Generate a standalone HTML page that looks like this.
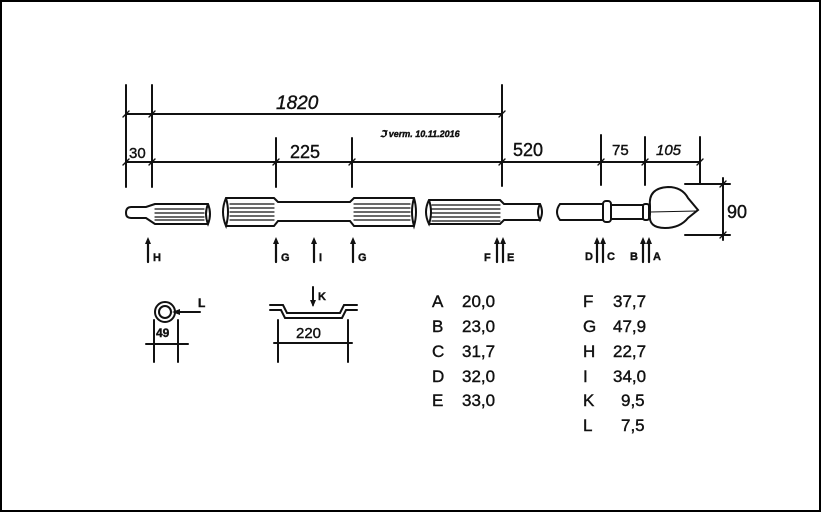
<!DOCTYPE html>
<html><head><meta charset="utf-8"><style>
html,body{margin:0;padding:0;background:#fff}
svg{display:block}
text{font-family:"Liberation Sans",sans-serif;fill:#111}
</style></head><body>
<svg width="821" height="512" viewBox="0 0 821 512" xmlns="http://www.w3.org/2000/svg">
<rect x="1" y="1" width="819" height="510" fill="#fff" stroke="#000" stroke-width="2"/>
<g stroke="#111" stroke-width="2" fill="none" stroke-linecap="round">
<line x1="126" y1="85" x2="126" y2="187"/>
<line x1="152" y1="85" x2="152" y2="187"/>
<line x1="502" y1="85" x2="502" y2="186"/>
<line x1="276" y1="138" x2="276" y2="187"/>
<line x1="352" y1="138" x2="352" y2="187"/>
<line x1="601" y1="135" x2="601" y2="185"/>
<line x1="645" y1="137" x2="645" y2="185"/>
<line x1="700" y1="137" x2="700" y2="184"/>
<line x1="126" y1="114" x2="502" y2="114"/>
<line x1="126" y1="162" x2="700" y2="162"/>
<g stroke-width="1.4">
<line x1="123" y1="117" x2="129" y2="111"/><line x1="149" y1="117" x2="155" y2="111"/><line x1="499" y1="117" x2="505" y2="111"/>
<line x1="123" y1="165" x2="129" y2="159"/><line x1="149" y1="165" x2="155" y2="159"/><line x1="273" y1="165" x2="279" y2="159"/><line x1="349" y1="165" x2="355" y2="159"/><line x1="499" y1="165" x2="505" y2="159"/><line x1="598" y1="165" x2="604" y2="159"/><line x1="642" y1="165" x2="648" y2="159"/><line x1="697" y1="165" x2="703" y2="159"/>
</g>
<path d="M155 204 L208 204 M155 224 L208 224 M155 204 L146 207 L131 207 Q126 207 126 213 Q126 218 131 218 L146 218 L155 224"/>
<path d="M208 204 Q204 214 208 224 Q212 214 208 204"/>
<g stroke-width="1.2"><line x1="155" y1="209" x2="204" y2="209"/><line x1="155" y1="213" x2="204" y2="213"/><line x1="155" y1="217" x2="204" y2="217"/><line x1="155" y1="220" x2="204" y2="220"/></g>
<path d="M226 198 L274 198 L278 202 L350 202 L354 198 L414 198 M226 226 L274 226 L278 221 L350 221 L354 226 L414 226"/>
<path d="M226 198 Q220 212 226 226 Q230 212 226 198 M414 198 Q410 212 414 226 Q418 212 414 198"/>
<g stroke-width="1.2"><line x1="230" y1="204" x2="274" y2="204"/><line x1="230" y1="208" x2="274" y2="208"/><line x1="230" y1="212" x2="274" y2="212"/><line x1="230" y1="216" x2="274" y2="216"/><line x1="230" y1="220" x2="274" y2="220"/>
<line x1="354" y1="204" x2="410" y2="204"/><line x1="354" y1="208" x2="410" y2="208"/><line x1="354" y1="212" x2="410" y2="212"/><line x1="354" y1="216" x2="410" y2="216"/><line x1="354" y1="220" x2="410" y2="220"/></g>
<path d="M429 200 L500 200 L504 204 L540 204 M429 224 L500 224 L504 220 L540 220"/>
<path d="M429 200 Q423 212 429 224 Q433 212 429 200 M540 204 Q536 212 540 220 Q544 212 540 204"/>
<g stroke-width="1.2"><line x1="432" y1="205" x2="500" y2="205"/><line x1="432" y1="209" x2="500" y2="209"/><line x1="432" y1="213" x2="500" y2="213"/><line x1="432" y1="217" x2="500" y2="217"/><line x1="432" y1="221" x2="500" y2="221"/></g>
<path d="M560 204 L603 204 M560 220 L603 220 M560 204 Q554 212 560 220"/>
<rect x="603" y="201" width="8" height="21" rx="3"/>
<path d="M611 205 L643 205 M611 219 L643 219"/>
<rect x="643" y="204" width="6" height="16" rx="2"/>
<path d="M650 206 Q648 188 668 187 Q682 187 688 198 L698 210 L688 218 Q680 228 665 228 Q648 228 650 214 Z"/>
<line x1="650" y1="212" x2="697" y2="211" stroke-width="1"/>
<line x1="685" y1="184" x2="730" y2="184"/><line x1="685" y1="235" x2="730" y2="235"/><line x1="723" y1="178" x2="723" y2="240"/>
<line x1="720" y1="187" x2="726" y2="181" stroke-width="1.4"/><line x1="720" y1="238" x2="726" y2="232" stroke-width="1.4"/>
<circle cx="165" cy="312" r="10"/><circle cx="165" cy="312" r="6"/>
<line x1="180" y1="312" x2="200" y2="312"/>
<line x1="154" y1="320" x2="154" y2="362"/><line x1="178" y1="320" x2="178" y2="362"/><line x1="146" y1="344" x2="188" y2="344"/>
<path d="M270 305 L283 305 L287 313 L340 313 L344 305 L357 305 M270 310 L281 310 L285 318 L342 318 L346 310 L357 310"/>
<line x1="313" y1="287" x2="313" y2="305"/>
<line x1="278" y1="320" x2="278" y2="362"/><line x1="348" y1="320" x2="348" y2="362"/><line x1="274" y1="343" x2="352" y2="343"/>
<g stroke-width="2.2">
<line x1="148" y1="240" x2="148" y2="262"/><line x1="276" y1="240" x2="276" y2="262"/><line x1="314" y1="240" x2="314" y2="262"/><line x1="353" y1="240" x2="353" y2="262"/>
<line x1="497" y1="240" x2="497" y2="262"/><line x1="503" y1="240" x2="503" y2="262"/>
<line x1="597" y1="240" x2="597" y2="262"/><line x1="603" y1="240" x2="603" y2="262"/>
<line x1="643" y1="240" x2="643" y2="262"/><line x1="649" y1="240" x2="649" y2="262"/>
</g>
</g>
<g fill="#111">
<path d="M145 244 L148 237 L151 244Z M273 244 L276 237 L279 244Z M311 244 L314 237 L317 244Z M350 244 L353 237 L356 244Z M494 244 L497 237 L500 244Z M500 244 L503 237 L506 244Z M594 244 L597 237 L600 244Z M600 244 L603 237 L606 244Z M640 244 L643 237 L646 244Z M646 244 L649 237 L652 244Z"/>
<path d="M180 309 L172 312 L180 315Z M310 300 L313 307 L316 300Z"/>
</g>
<g font-size="17" stroke="#111" stroke-width="0.4">
<text x="276" y="109" font-size="19" font-style="italic">1820</text>
<text x="129" y="158" font-size="15">30</text>
<text x="290" y="158" font-size="18">225</text>
<text x="513" y="156" font-size="18">520</text>
<text x="612" y="155" font-size="15">75</text>
<text x="656" y="155" font-size="15" font-style="italic">105</text>
<text x="380" y="137" font-size="9" font-style="italic" font-weight="bold">ℑ verm. 10.11.2016</text>
<text x="727" y="218" font-size="18">90</text>
<text x="153" y="261" font-size="11" font-weight="bold">H</text>
<text x="281" y="261" font-size="11" font-weight="bold">G</text>
<text x="319" y="261" font-size="11" font-weight="bold">I</text>
<text x="358" y="261" font-size="11" font-weight="bold">G</text>
<text x="484" y="261" font-size="11" font-weight="bold">F</text>
<text x="507" y="261" font-size="11" font-weight="bold">E</text>
<text x="585" y="260" font-size="11" font-weight="bold">D</text>
<text x="607" y="260" font-size="11" font-weight="bold">C</text>
<text x="630" y="260" font-size="11" font-weight="bold">B</text>
<text x="653" y="260" font-size="11" font-weight="bold">A</text>
<text x="198" y="307" font-size="12" font-weight="bold">L</text>
<text x="156" y="337" font-size="12" font-weight="bold">49</text>
<text x="318" y="300" font-size="11" font-weight="bold">K</text>
<text x="296" y="338" font-size="15">220</text>
<text x="432" y="307">A</text><text x="462" y="307">20,0</text>
<text x="432" y="332">B</text><text x="462" y="332">23,0</text>
<text x="432" y="357">C</text><text x="462" y="357">31,7</text>
<text x="432" y="382">D</text><text x="462" y="382">32,0</text>
<text x="432" y="406">E</text><text x="462" y="406">33,0</text>
<text x="583" y="307">F</text><text x="613" y="307">37,7</text>
<text x="583" y="332">G</text><text x="613" y="332">47,9</text>
<text x="583" y="357">H</text><text x="613" y="357">22,7</text>
<text x="583" y="382">I</text><text x="613" y="382">34,0</text>
<text x="583" y="406">K</text><text x="621" y="406">9,5</text>
<text x="583" y="431">L</text><text x="621" y="431">7,5</text>
</g>
</svg>
</body></html>
